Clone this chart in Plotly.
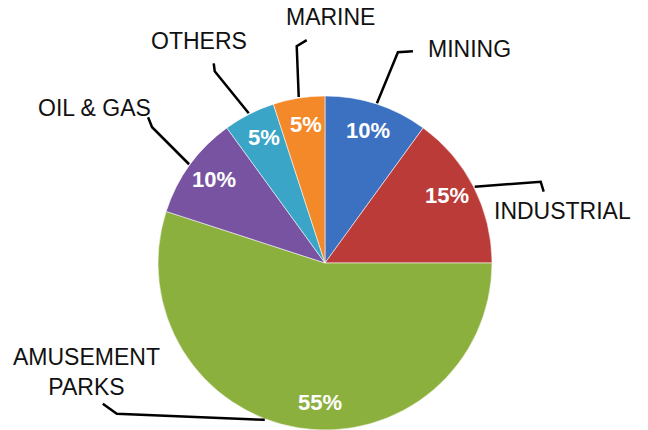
import math
import plotly.graph_objects as go

# ---- data ----
categories = ["MINING", "INDUSTRIAL", "AMUSEMENT<br>PARKS", "OIL & GAS", "OTHERS", "MARINE"]
shares = [10, 15, 55, 10, 5, 5]
colors = ["#3C70C0", "#BA3B37", "#8CB03E", "#7753A1", "#3AA5C6", "#F4892A"]

# ---- layout / style ----
W, H = 648, 430                    # figure size (page body margin removed below)
CX, CY, R = 325, 263, 168          # pie centre & radius in screen pixels
TEXT_FRAC = 0.83                   # radial position of percentage text
text_shift = [0, -2, -7, 1, 1, 1]  # angular nudge of percentage labels (deg)
lead_shift = [0, 0, 12, 0, 0, 0]   # angular nudge of leader start (deg)
lead_d1 = [(21, -51), (66, -5), (-148, -6), (-37, -37), (-34, -42), (-2, -51)]
lead_d2 = [(15, -1), (3, 10), (-14, -10), (-4, -10), (-1, -8), (10, -6)]
label_pos = [(469, 49), (562, 211), (86, 372), (94, 108), (199, 41), (330, 17)]
FONT = "Liberation Sans, Arial, sans-serif"


def px(x, y):
    return x / W, 1 - y / H


def pt(angle_deg, r):
    a = math.radians(angle_deg)
    return CX + r * math.sin(a), CY - r * math.cos(a)


# pie domain (the pie may touch the bottom edge of the figure)
cy_from_bottom = H - CY
dom_x = [(CX - R) / W, (CX + R) / W]
dom_y = [max(0, (cy_from_bottom - R) / H),
         2 * cy_from_bottom / H if cy_from_bottom < R else (cy_from_bottom + R) / H]

fig = go.Figure(go.Pie(
    labels=[c.replace("<br>", " ") for c in categories],
    values=shares,
    sort=False,
    direction="clockwise",
    rotation=0,
    marker=dict(colors=colors, line=dict(color="rgba(255,255,255,0.55)", width=1)),
    textinfo="none",
    hoverinfo="label+percent",
    domain=dict(x=dom_x, y=dom_y),
    showlegend=False,
))

total = sum(shares)
annotations = []
shapes = []
cum = 0.0
for i, v in enumerate(shares):
    start = cum / total * 360
    cum += v
    end = cum / total * 360
    mid = (start + end) / 2
    pct = round(v / total * 100)

    # percentage text
    tx, ty = pt(mid + text_shift[i], R * TEXT_FRAC)
    x, y = px(tx, ty)
    annotations.append(dict(x=x, y=y, xref="paper", yref="paper", text=f"<b>{pct}%</b>",
                            showarrow=False, font=dict(family=FONT, size=22, color="white"),
                            xanchor="center", yanchor="middle"))

    # leader line
    sx, sy = pt(mid + lead_shift[i], R)
    ex, ey = sx + lead_d1[i][0], sy + lead_d1[i][1]
    fx, fy = ex + lead_d2[i][0], ey + lead_d2[i][1]
    p0, p1, p2 = px(sx, sy), px(ex, ey), px(fx, fy)
    shapes.append(dict(type="path", xref="paper", yref="paper",
                       path=f"M {p0[0]} {p0[1]} L {p1[0]} {p1[1]} L {p2[0]} {p2[1]}",
                       line=dict(color="black", width=2.5)))

    # category label
    lx, ly = px(*label_pos[i])
    annotations.append(dict(x=lx, y=ly, xref="paper", yref="paper", text=categories[i],
                            showarrow=False, font=dict(family=FONT, size=23, color="#111111"),
                            xanchor="center", yanchor="middle", align="center"))

fig.update_layout(
    width=W, height=H,
    margin=dict(l=0, r=0, t=0, b=0),
    paper_bgcolor="white", plot_bgcolor="white",
    annotations=annotations,
    shapes=shapes,
)

fig.write_html("out.html",
               config={"displayModeBar": False},
               post_script="document.body.style.margin='0';document.body.style.overflow='hidden';")
